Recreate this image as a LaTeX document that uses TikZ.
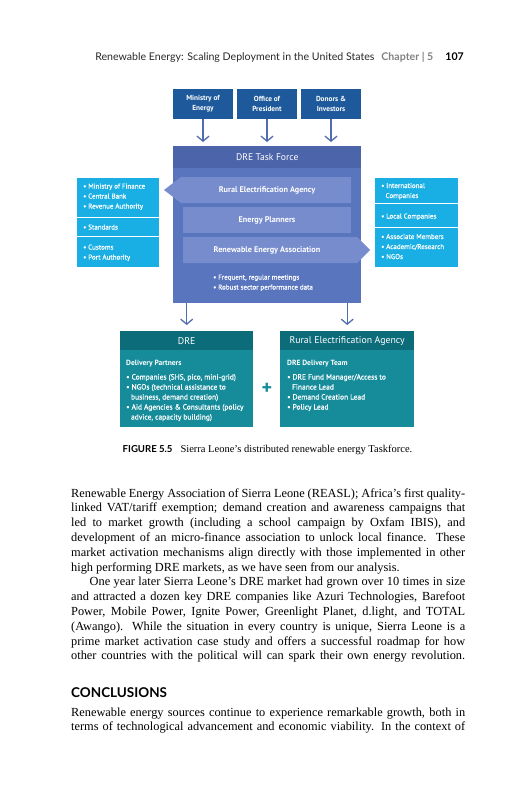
\documentclass[tikz,border=0pt]{standalone}
\usepackage{fontspec}
\setmainfont{Liberation Serif}
\newfontfamily\dsans{PT Sans}
\newfontfamily\dsansm[FakeBold=0.6]{PT Sans}
\newfontfamily\hsans{Lato}
\usetikzlibrary{arrows.meta}
\definecolor{topblue}{RGB}{30,90,155}
\definecolor{arrowc}{RGB}{80,110,175}
\definecolor{tfbody}{RGB}{88,117,190}
\definecolor{tftitle}{RGB}{75,100,170}
\definecolor{bannerc}{RGB}{118,140,205}
\definecolor{cyanp}{RGB}{25,175,228}
\definecolor{tealh}{RGB}{12,108,122}
\definecolor{tealb}{RGB}{22,140,155}
\definecolor{headgray}{RGB}{40,40,40}
\definecolor{chapgray}{RGB}{130,130,130}
\tikzset{
  topbox/.style={fill=topblue, text=white, minimum width=60, minimum height=30, inner sep=0, align=center,
    font=\dsans\bfseries\fontsize{7.3}{10}\selectfont},
  arr/.style={draw=arrowc, line width=1.3pt, -{Straight Barb[length=5pt,width=12pt,line width=1.3pt]}},
  bantext/.style={text=white, inner sep=0, font=\dsans\bfseries\fontsize{8.2}{10}\selectfont},
  itm/.style={text=white, anchor=base west, inner sep=0, font=\dsansm\fontsize{7}{10}\selectfont},
  itmc/.style={itm, font=\dsansm\fontsize{7.5}{10}\selectfont},
  itmb/.style={itm, font=\dsans\bfseries\fontsize{7.5}{10}\selectfont},
  bline/.style={anchor=base west, inner sep=0, font=\fontsize{12.35}{14.8}\selectfont},
}
\begin{document}
\begin{tikzpicture}[x=1pt,y=-1pt]
\useasboundingbox[fill=white] (0,0) rectangle (531,800);

% running header
\node[anchor=base east, inner sep=0, text=headgray, font=\hsans\fontsize{10.6}{12}\selectfont] (hdr) at (464,60)
  {Renewable Energy: Scaling Deployment in the United States\hspace{7pt}{\bfseries\color{chapgray}Chapter | 5}\hspace{12pt}{\bfseries\color{black}107}};

% top boxes
\node[topbox] (moe) at (203,104) {Ministry of\\Energy};
\node[topbox] (oop) at (267,104) {Office of\\President};
\node[topbox] (don) at (331,104) {Donors \&\\Investors};

% task force
\node[fill=tfbody, anchor=north west, minimum width=188, minimum height=157, inner sep=0] (tf) at (173,146) {};
\node[fill=tftitle, anchor=north west, minimum width=188, minimum height=22, inner sep=0, text=white,
  font=\dsans\fontsize{9.6}{11}\selectfont] (tft) at (173,146) {DRE Task Force};

\draw[arr, shorten >=4pt] (moe.south) -- (moe.south |- tf.north);
\draw[arr, shorten >=4pt] (oop.south) -- (oop.south |- tf.north);
\draw[arr, shorten >=4pt] (don.south) -- (don.south |- tf.north);

% banners
\fill[bannerc] (164,190) -- (181,177) -- (351,177) -- (351,203) -- (181,203) -- cycle;
\node[bantext] (rea) at (267,190) {Rural Electrification Agency};
\fill[bannerc] (183,207) rectangle (351,233);
\node[bantext] (ep) at (267,220) {Energy Planners};
\fill[bannerc] (183,237) -- (357,237) -- (370,250) -- (357,263) -- (183,263) -- cycle;
\node[bantext] (reas) at (267,250) {Renewable Energy Association};

\node[itm] (tf1) at (213,279.5) {• Frequent, regular meetings};
\node[itm] (tf2) at (213,289.5) {• Robust sector performance data};

% left panel
\fill[cyanp] (77,177.5) rectangle (159,267);
\draw[white, line width=0.7pt] (77,217) -- (159,217) (77,236) -- (159,236);
\node[itm] (l1) at (83,188.5) {• Ministry of Finance};
\node[itm] (l2) at (83,198.5) {• Central Bank};
\node[itm] (l3) at (83,208.5) {• Revenue Authority};
\node[itm] (l4) at (83,229.5) {• Standards};
\node[itm] (l5) at (83,249.5) {• Customs};
\node[itm] (l6) at (83,259.5) {• Port Authority};

% right panel
\fill[cyanp] (375,177.5) rectangle (458,267);
\draw[white, line width=0.7pt] (375,203) -- (458,203) (375,227) -- (458,227);
\node[itm] (r1) at (381,188) {• International};
\node[itm] (r2) at (385.5,198) {Companies};
\node[itm] (r3) at (381,218.5) {• Local Companies};
\node[itm] (r4) at (381,239) {• Associate Members};
\node[itm] (r5) at (381,249) {• Academic/Research};
\node[itm] (r6) at (381,259) {• NGOs};

% bottom boxes
\node[fill=tealb, anchor=north west, minimum width=133, minimum height=96, inner sep=0] (dre) at (120,331) {};
\node[fill=tealh, anchor=north west, minimum width=133, minimum height=19, inner sep=0, text=white,
  font=\dsans\fontsize{9.8}{11}\selectfont] (dreh) at (120,331) {DRE};
\node[fill=tealb, anchor=north west, minimum width=134, minimum height=96, inner sep=0] (reb) at (280,331) {};
\node[fill=tealh, anchor=north west, minimum width=134, minimum height=19, inner sep=0, text=white,
  font=\dsans\fontsize{9.8}{11}\selectfont] (rebh) at (280,331) {Rural Electrification Agency};

\draw[arr, shorten >=6pt] (tf.south -| dreh.north) -- (dreh.north);
\draw[arr, shorten >=6pt] (tf.south -| rebh.north) -- (rebh.north);

\node[itmb] (d0) at (126,365.5) {Delivery Partners};
\node[itmc] (d1) at (126,379.5) {• Companies (SHS, pico, mini-grid)};
\node[itmc] (d2) at (126,389.5) {• NGOs (technical assistance to};
\node[itmc] (d3) at (130.8,399.5) {business, demand creation)};
\node[itmc] (d4) at (126,409.5) {• Aid Agencies \& Consultants (policy};
\node[itmc] (d5) at (130.8,419.5) {advice, capacity building)};

\node[itmb] (e0) at (287,365.5) {DRE Delivery Team};
\node[itmc] (e1) at (287,379.5) {• DRE Fund Manager/Access to};
\node[itmc] (e2) at (291.8,389.5) {Finance Lead};
\node[itmc] (e3) at (287,399.5) {• Demand Creation Lead};
\node[itmc] (e4) at (287,409.5) {• Policy Lead};

\node[text=tealb, inner sep=0, font=\dsans\bfseries\fontsize{20}{20}\selectfont] (plus) at (267,389) {+};

% caption
\node[anchor=base, inner sep=0, font=\fontsize{10.5}{12}\selectfont] (cap) at (267.5,452)
  {{\hsans\bfseries\fontsize{9.6}{12}\selectfont FIGURE 5.5}\hspace{8pt}Sierra Leone’s distributed renewable energy Taskforce.};

% body text
\node[bline] (b1) at (71,497.0) {\makebox[394pt][s]{Renewable Energy Association of Sierra Leone (REASL); Africa’s first quality-}};
\node[bline] (b2) at (71,511.8) {\makebox[394pt][s]{linked VAT/tariff exemption; demand creation and awareness campaigns that}};
\node[bline] (b3) at (71,526.6) {\makebox[394pt][s]{led to market growth (including a school campaign by Oxfam IBIS), and}};
\node[bline] (b4) at (71,541.4) {\makebox[394pt][s]{development of an micro-finance association to unlock local finance. These}};
\node[bline] (b5) at (71,556.2) {\makebox[394pt][s]{market activation mechanisms align directly with those implemented in other}};
\node[bline] (b6) at (71,571.0) {high performing DRE markets, as we have seen from our analysis.};
\node[bline] (b7) at (89.5,585.8) {\makebox[375.5pt][s]{One year later Sierra Leone’s DRE market had grown over 10 times in size}};
\node[bline] (b8) at (71,600.6) {\makebox[394pt][s]{and attracted a dozen key DRE companies like Azuri Technologies, Barefoot}};
\node[bline] (b9) at (71,615.4) {\makebox[394pt][s]{Power, Mobile Power, Ignite Power, Greenlight Planet, d.light, and TOTAL}};
\node[bline] (b10) at (71,630.2) {\makebox[394pt][s]{(Awango). While the situation in every country is unique, Sierra Leone is a}};
\node[bline] (b11) at (71,645.0) {\makebox[394pt][s]{prime market activation case study and offers a successful roadmap for how}};
\node[bline] (b12) at (71,659.8) {\makebox[394pt][s]{other countries with the political will can spark their own energy revolution.}};

\node[anchor=base west, inner sep=0, font=\hsans\bfseries\fontsize{13.5}{15}\selectfont] (conc) at (71,697) {CONCLUSIONS};

\node[bline] (c1) at (71,716) {\makebox[394pt][s]{Renewable energy sources continue to experience remarkable growth, both in}};
\node[bline] (c2) at (71,730.8) {\makebox[394pt][s]{terms of technological advancement and economic viability. In the context of}};
\end{tikzpicture}
\end{document}
